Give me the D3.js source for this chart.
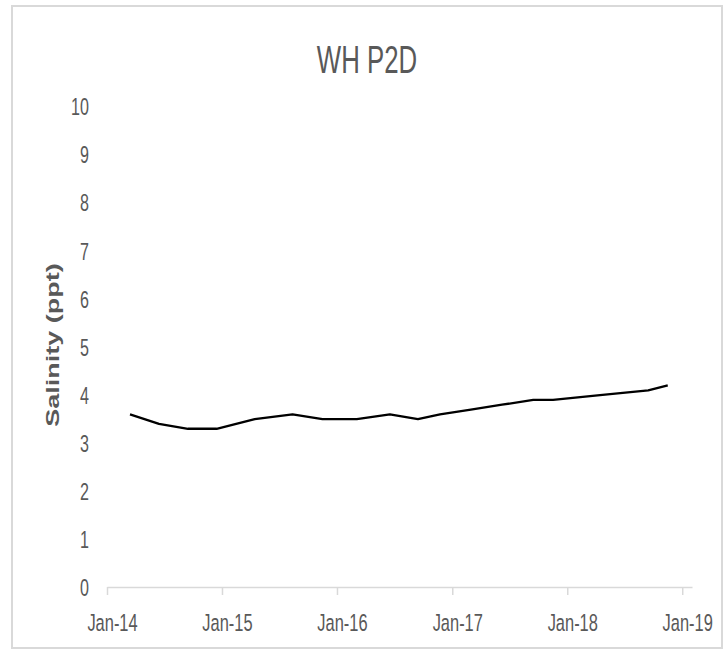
<!DOCTYPE html>
<html>
<head>
<meta charset="utf-8">
<script src="https://cdn.jsdelivr.net/npm/d3@7"></script>
<style>
  html, body { margin: 0; padding: 0; background: #fff; }
  svg { display: block; }
  text { font-family: "Liberation Sans", Arial, sans-serif; fill: #595959; }
</style>
</head>
<body>
<svg id="chart" width="727" height="650"></svg>
<script>
// Sampling dates and salinity readings (ppt) for station WH P2D
const sampleDates = [
  "2014-03-15", "2014-06-15", "2014-09-15", "2014-12-15",
  "2015-04-15", "2015-08-13", "2015-11-16", "2016-03-04",
  "2016-06-17", "2016-09-14", "2016-11-23", "2017-03-01",
  "2017-06-08", "2017-09-15", "2017-11-17", "2018-04-15",
  "2018-09-15", "2018-11-16"
];
const salinity = [
  3.6, 3.4, 3.3, 3.3,
  3.5, 3.6, 3.5, 3.5,
  3.6, 3.5, 3.6, 3.7,
  3.8, 3.9, 3.9, 4.0,
  4.1, 4.2
];
const yTicks = [0, 1, 2, 3, 4, 5, 6, 7, 8, 9, 10];
const xTickDates = ["2014-01-01", "2015-01-01", "2016-01-01", "2017-01-01", "2018-01-01", "2019-01-01"];
const xDomain = ["2014-01-01", "2019-02-01"];
const chartTitle = "WH P2D";
const yTitle = "Salinity (ppt)";

const parse = d3.timeParse("%Y-%m-%d");
const data = sampleDates.map((d, i) => ({ date: parse(d), value: salinity[i] }));

const svg = d3.select("#chart");
const sx = 0.7; // horizontal glyph squeeze for the condensed look

// Outer frame
svg.append("rect")
  .attr("x", 12).attr("y", 6)
  .attr("width", 710).attr("height", 642)
  .attr("fill", "#fff")
  .attr("stroke", "#d9d9d9")
  .attr("stroke-width", 2);

const x = d3.scaleTime()
  .domain(xDomain.map(parse))
  .range([107, 692]);

const y = d3.scaleLinear()
  .domain([0, 10])
  .range([587.5, 106.5]);

// Title
svg.append("text")
  .attr("transform", `translate(367,72.5) scale(0.67,1)`)
  .attr("text-anchor", "middle")
  .style("font-size", "38.5px")
  .text(chartTitle);

// Y axis (labels only)
const yAxis = svg.append("g")
  .attr("transform", "translate(107,0)")
  .call(d3.axisLeft(y).tickValues(yTicks).tickFormat(d3.format("d")).tickSize(0));
yAxis.select(".domain").remove();
yAxis.selectAll("text")
  .attr("transform", `scale(${sx},1)`)
  .attr("x", -18 / sx)
  .attr("dy", "0.36em")
  .style("font-size", "23px")
  .style("fill", "#595959");

// X axis
const xAxis = svg.append("g")
  .attr("transform", "translate(0,587)")
  .call(d3.axisBottom(x)
    .tickValues(xTickDates.map(parse))
    .tickFormat(d3.timeFormat("%b-%y"))
    .tickSize(8)
    .tickSizeOuter(0));
xAxis.select(".domain")
  .attr("stroke", "#d9d9d9")
  .attr("stroke-width", 1.5);
xAxis.selectAll(".tick line")
  .attr("stroke", "#d9d9d9")
  .attr("stroke-width", 1.5);
xAxis.selectAll("text")
  .attr("transform", `scale(${sx},1)`)
  .attr("x", 5 / sx)
  .attr("y", 44.5)
  .attr("dy", 0)
  .style("font-size", "23.5px")
  .style("fill", "#595959");

// Y axis title
svg.append("text")
  .attr("transform", "translate(59,345) rotate(-90) scale(1,0.7)")
  .attr("text-anchor", "middle")
  .style("font-size", "27px")
  .style("font-weight", "bold")
  .text(yTitle);

// Salinity line
const line = d3.line()
  .x(d => x(d.date))
  .y(d => y(d.value));

svg.append("path")
  .datum(data)
  .attr("fill", "none")
  .attr("stroke", "#000")
  .attr("stroke-width", 2.3)
  .attr("stroke-linejoin", "round")
  .attr("d", line);
</script>
</body>
</html>
